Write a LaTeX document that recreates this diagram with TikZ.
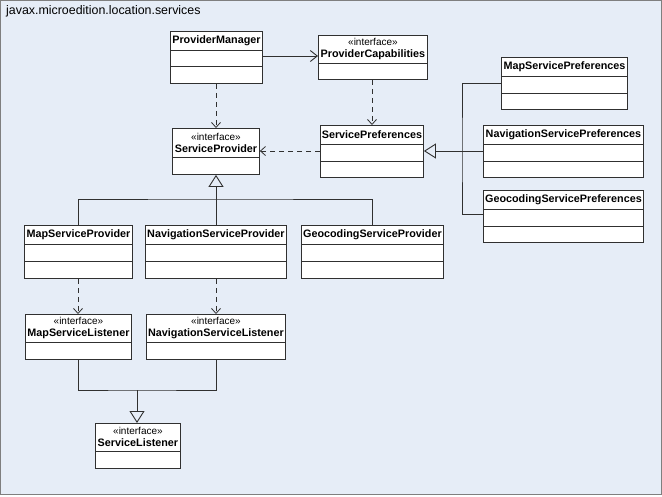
\documentclass[tikz,border=0pt]{standalone}
\usepackage{fontspec}
\setmainfont{Liberation Sans}
\usetikzlibrary{arrows.meta,calc}

\definecolor{pkgbg}{HTML}{E6EDF7}
\definecolor{pkgline}{HTML}{7F7F7F}
\definecolor{boxline}{HTML}{303030}

\tikzset{
  cls/.style={draw=boxline, fill=white, line width=0.9pt, anchor=north west, inner sep=0pt},
  lbl/.style={inner sep=0pt, align=center, font=\fontsize{10.8}{12}\selectfont\bfseries},
  dep/.style={draw=boxline, dashed, dash pattern=on 5pt off 4pt, line width=0.8pt, -{Straight Barb[length=5pt,width=9pt]}},
  assoc/.style={draw=boxline, line width=0.9pt, -{Straight Barb[length=7pt,width=11pt]}},
  gen/.style={draw=boxline, line width=0.9pt},
  genhead/.style={draw=boxline, line width=0.9pt, -{Triangle[open,length=12pt,width=15pt]}}
}
\newcommand{\stereo}{{\fontsize{10}{12}\selectfont\mdseries «interface»}\\}
% name, x, y, width, height, divider offsets, label centre offset, label
\newcommand{\umlbox}[8]{%
  \node[cls, minimum width=#4pt, minimum height=#5pt] (#1) at (#2,#3) {};
  \foreach \d in {#6} \draw[boxline, line width=0.9pt] ($(#1.north west)+(0,\d)$) -- ++(#4,0);
  \node[lbl] (#1-t) at ($(#1.north)+(0,#7)$) {#8};
}

\begin{document}
\begin{tikzpicture}[x=1pt, y=-1pt]

  % package frame
  \draw[pkgline, fill=pkgbg, line width=1pt] (0.5,0.5) rectangle (661.5,494.5);
  \useasboundingbox (0,0) rectangle (662,496);
  \node[anchor=west, inner sep=0pt, font=\fontsize{12.4}{14}\selectfont] (pkg) at (6,11) {javax.microedition.location.services};

  % classes
  \umlbox{pm}{170}{31}{92}{52}{19,35}{9.5}{ProviderManager}
  \umlbox{pc}{318}{35}{109}{44}{28}{14}{\stereo ProviderCapabilities}
  \umlbox{sp}{172}{128}{87}{46}{29}{14.5}{\stereo ServiceProvider}
  \umlbox{spref}{320}{125}{103}{52}{19,36}{9.5}{ServicePreferences}
  \umlbox{msp}{501}{57}{126}{52}{19,36}{9.5}{MapServicePreferences}
  \umlbox{nsp}{483}{125}{160}{52}{19,36}{9.5}{NavigationServicePreferences}
  \umlbox{gsp}{483}{190}{160}{52}{19,36}{9.5}{GeocodingServicePreferences}
  \umlbox{mprov}{24}{225}{108}{53}{19,36}{9.5}{MapServiceProvider}
  \umlbox{nprov}{145}{225}{141}{53}{19,36}{9.5}{NavigationServiceProvider}
  \umlbox{gprov}{301}{225}{142}{53}{19,36}{9.5}{GeocodingServiceProvider}
  \umlbox{mlis}{25}{314}{106}{45}{28}{14}{\stereo MapServiceListener}
  \umlbox{nlis}{146}{314}{139}{45}{28}{14}{\stereo NavigationServiceListener}
  \umlbox{slis}{95}{423}{85}{45}{28}{14}{\stereo ServiceListener}

  % bus points
  \coordinate (pbus) at (216,199);
  \coordinate (prefbus) at (462,151);
  \coordinate (lbus) at (137,390);

  % associations and dependencies
  \draw[assoc] (pm.east |- 0,56) -- (pc.west |- 0,56);
  \draw[dep] (pm.south -| 216,0) -- (sp.north -| 216,0);
  \draw[dep] (pc.south -| 372,0) -- (spref.north -| 372,0);
  \draw[dep] (spref.west |- 0,151) -- (sp.east |- 0,151);
  \draw[dep] (mprov.south -| 78,0) -- (mlis.north -| 78,0);
  \draw[dep] (nprov.south -| 216,0) -- (nlis.north -| 216,0);

  % generalizations
  \draw[gen] (mprov.north -| 78,0) |- (pbus) -| (gprov.north -| 372,0);
  \draw[genhead] (nprov.north -| 216,0) -- (sp.south -| 216,0);
  \draw[gen] (msp.west |- 0,83) -| (prefbus) |- (gsp.west |- 0,214);
  \draw[genhead] (nsp.west |- 0,151) -- (spref.east |- 0,151);
  \draw[gen] (mlis.south -| 78,0) |- (lbus) -| (nlis.south -| 216,0);
  \draw[genhead] (lbus) -- (slis.north -| 137,0);

\end{tikzpicture}
\end{document}
